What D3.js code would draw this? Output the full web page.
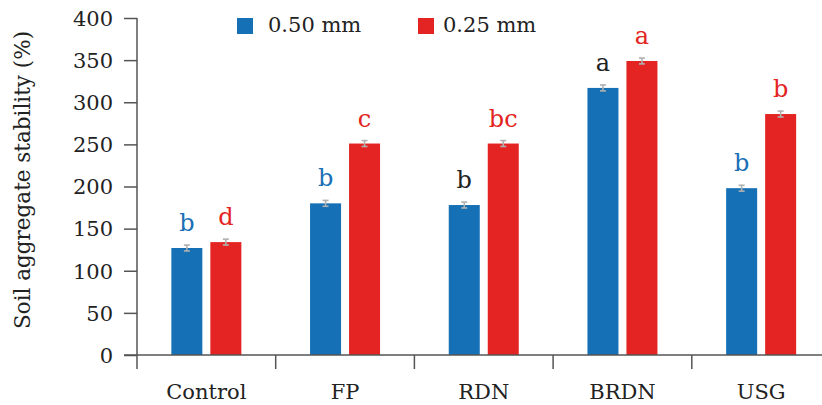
<!DOCTYPE html>
<html>
<head>
<meta charset="utf-8">
<script src="https://cdn.jsdelivr.net/npm/d3@7"></script>
<style>
  html, body { margin: 0; padding: 0; background: #fff; }
  svg { display: block; }
  text { font-family: "DejaVu Serif", serif; }
</style>
</head>
<body>
<svg id="chart" width="822" height="405"></svg>
<script>
const categories = ["Control", "FP", "RDN", "BRDN", "USG"];
const seriesNames = ["0.50 mm", "0.25 mm"];
const values050 = [127, 180, 178, 317, 198];
const values025 = [134, 251, 251, 349, 286];
const errors050 = [3.5, 3.5, 3.5, 3.5, 3.5];
const errors025 = [3.5, 3.5, 3.5, 3.5, 3.5];
const letters050 = ["b", "b", "b", "a", "b"];
const letters025 = ["d", "c", "bc", "a", "b"];
const letterColors050 = ["#1a6fb6", "#1a6fb6", "#222222", "#222222", "#1a6fb6"];
const letterColors025 = ["#e32422", "#e32422", "#e32422", "#e32422", "#e32422"];
const yTicks = [0, 50, 100, 150, 200, 250, 300, 350, 400];
const colors = ["#1570b5", "#e32422"];

const svg = d3.select("#chart");
const axisColor = "#555";
const textColor = "#222";

const mLeft = 137, mTop = 18, mBottom = 355;
const catStep = 138.7;

const x0 = d3.scaleBand().domain(categories).range([mLeft, mLeft + catStep * categories.length]).padding(0);
const x1 = d3.scaleBand().domain(seriesNames).range([-35, 35]).paddingInner(0.205).paddingOuter(0);
const y = d3.scaleLinear().domain([0, 400]).range([mBottom, mTop]);

const data = categories.map((c, i) => ({
  cat: c,
  items: [
    { s: seriesNames[0], v: values050[i], e: errors050[i], l: letters050[i], lc: letterColors050[i], color: colors[0] },
    { s: seriesNames[1], v: values025[i], e: errors025[i], l: letters025[i], lc: letterColors025[i], color: colors[1] }
  ]
}));

// Bars
const groups = svg.selectAll("g.cat").data(data).join("g")
  .attr("class", "cat")
  .attr("transform", d => `translate(${x0(d.cat) + x0.bandwidth() / 2},0)`);

groups.selectAll("rect").data(d => d.items).join("rect")
  .attr("x", d => x1(d.s))
  .attr("width", x1.bandwidth())
  .attr("y", d => y(d.v))
  .attr("height", d => y(0) - y(d.v))
  .attr("fill", d => d.color);

// Error bars
const eb = groups.selectAll("g.err").data(d => d.items).join("g").attr("class", "err")
  .attr("stroke", "#b0b0b0").attr("stroke-width", 1.6);
eb.append("line")
  .attr("x1", d => x1(d.s) + x1.bandwidth() / 2).attr("x2", d => x1(d.s) + x1.bandwidth() / 2)
  .attr("y1", d => y(d.v + d.e)).attr("y2", d => y(d.v - d.e));
eb.append("line")
  .attr("x1", d => x1(d.s) + x1.bandwidth() / 2 - 3).attr("x2", d => x1(d.s) + x1.bandwidth() / 2 + 3)
  .attr("y1", d => y(d.v + d.e)).attr("y2", d => y(d.v + d.e));
eb.append("line")
  .attr("x1", d => x1(d.s) + x1.bandwidth() / 2 - 3).attr("x2", d => x1(d.s) + x1.bandwidth() / 2 + 3)
  .attr("y1", d => y(d.v - d.e)).attr("y2", d => y(d.v - d.e));

// Letters
groups.selectAll("text.letter").data(d => d.items).join("text")
  .attr("class", "letter")
  .attr("x", d => x1(d.s) + x1.bandwidth() / 2)
  .attr("y", d => y(d.v) - 17)
  .attr("text-anchor", "middle")
  .attr("font-size", 24)
  .attr("fill", d => d.lc)
  .text(d => d.l);

// Y axis
const yAxis = d3.axisLeft(y).tickValues(yTicks).tickSize(13).tickPadding(11).tickFormat(d3.format("d"));
const gy = svg.append("g").attr("transform", `translate(${mLeft},0)`).call(yAxis);
gy.select(".domain").remove();
gy.selectAll(".tick line").attr("stroke", axisColor).attr("stroke-width", 1.5);
gy.selectAll(".tick text").attr("fill", textColor).attr("font-size", 21)
  .attr("font-family", "DejaVu Serif, serif").attr("dy", "0.35em");
gy.append("line").attr("x1", 0).attr("x2", 0).attr("y1", mTop).attr("y2", mBottom + 14)
  .attr("stroke", axisColor).attr("stroke-width", 1.5);

// X axis
svg.append("line").attr("x1", mLeft - 13).attr("x2", 822).attr("y1", mBottom).attr("y2", mBottom)
  .attr("stroke", axisColor).attr("stroke-width", 1.5);
svg.selectAll("line.xsep").data(categories.slice(1)).join("line")
  .attr("class", "xsep")
  .attr("x1", d => x0(d)).attr("x2", d => x0(d))
  .attr("y1", mBottom).attr("y2", mBottom + 14)
  .attr("stroke", axisColor).attr("stroke-width", 1.5);
svg.selectAll("text.xlab").data(categories).join("text")
  .attr("class", "xlab")
  .attr("x", d => x0(d) + x0.bandwidth() / 2)
  .attr("y", 399)
  .attr("text-anchor", "middle")
  .attr("font-size", 21)
  .attr("fill", textColor)
  .text(d => d);

// Y title
svg.append("text")
  .attr("transform", `translate(30,180) rotate(-90)`)
  .attr("text-anchor", "middle")
  .attr("font-size", 21.5)
  .attr("fill", textColor)
  .text("Soil aggregate stability (%)");

// Legend
const legendX = [237, 418];
const leg = svg.selectAll("g.leg").data(seriesNames).join("g").attr("class", "leg")
  .attr("transform", (d, i) => `translate(${legendX[i]},0)`);
leg.append("rect").attr("x", 0).attr("y", 18).attr("width", 16).attr("height", 16)
  .attr("fill", (d, i) => colors[i]);
leg.append("text").attr("x", (d, i) => i === 0 ? 31 : 25).attr("y", 32)
  .attr("font-size", 21).attr("fill", textColor).text(d => d);
</script>
</body>
</html>
